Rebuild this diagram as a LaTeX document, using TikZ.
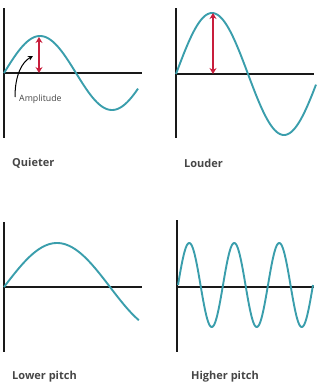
\documentclass[tikz,border=0pt]{standalone}
\usepackage{fontspec}
\setmainfont{Open Sans}
\usetikzlibrary{arrows.meta}
\definecolor{wave}{RGB}{58,158,172}
\definecolor{ampred}{RGB}{200,30,60}
\definecolor{labelgray}{RGB}{70,70,70}
\begin{document}
\begin{tikzpicture}[x=1pt,y=-1pt,
  axis/.style={line width=1.8pt,black!90},
  wavecurve/.style={line width=1.9pt,wave,line join=round},
  amparrow/.style={line width=2pt,ampred,{Stealth[length=6pt,width=7pt]}-{Stealth[length=6pt,width=7pt]}},
  caption/.style={font=\fontsize{11}{13}\selectfont\bfseries,text=labelgray,anchor=west,inner sep=0pt},
  small/.style={font=\fontsize{8.8}{10}\selectfont,text=labelgray,anchor=west,inner sep=0pt}]
\useasboundingbox (0,0) rectangle (321,386);
% Panel 1
\draw[axis] (4,8) -- (4,138);
\draw[axis] (4,73) -- (142,73);
\draw[wavecurve] plot[domain=0:335,samples=120] ({4+\x*0.4},{73-37*sin(\x)});
\coordinate (p1top) at (39,37);
\coordinate (p1base) at (39,73);
\draw[amparrow] (p1top) -- (p1base);
\node[small] (amp) at (19,99) {Amplitude};
\coordinate (ampstart) at (15,97);
\coordinate (amptip) at (33,56);
\draw[line width=1pt,black,-{Stealth[length=5pt,width=5pt]}] (ampstart) .. controls (15,75) and (22,62) .. (amptip);
\node[caption] (q) at (12,163) {Quieter};
% Panel 2
\draw[axis] (176,8) -- (176,138);
\draw[axis] (176,74) -- (314,74);
\draw[wavecurve] plot[domain=0:350,samples=120] ({176+\x*0.4},{74-61*sin(\x)});
\coordinate (p2top) at (213,13);
\coordinate (p2base) at (213,74);
\draw[amparrow] (p2top) -- (p2base);
\node[caption] (l) at (184,163) {Louder};
% Panel 3
\draw[axis] (4,222) -- (4,352);
\draw[axis] (4,287) -- (142,287);
\draw[wavecurve] plot[domain=0:229,samples=120] ({4+\x*0.58889},{287-44*sin(\x)});
\node[caption] (lp) at (12,377) {Lower pitch};
% Panel 4
\draw[axis] (177,220) -- (177,352);
\draw[axis] (177,287) -- (314,287);
\draw[wavecurve] plot[domain=0:1080,samples=240] ({178+\x*0.125},{285-42*sin(\x)});
\node[caption] (hp) at (191,377) {Higher pitch};
\end{tikzpicture}
\end{document}
